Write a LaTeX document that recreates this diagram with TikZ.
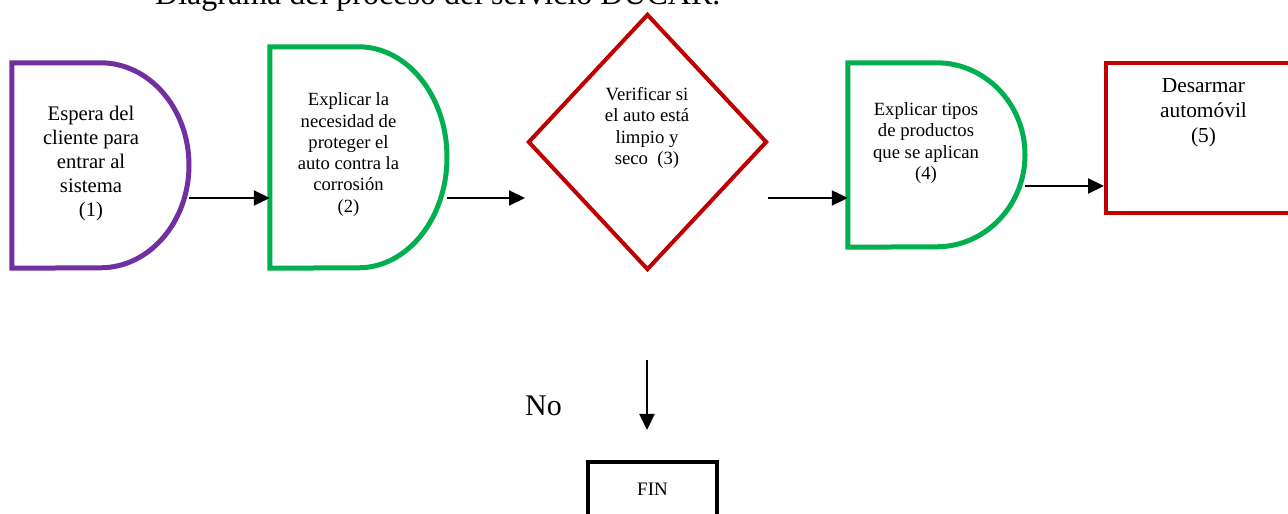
\documentclass[tikz,border=0pt]{standalone}
\usepackage{fontspec}
\setmainfont{Liberation Serif}
\usetikzlibrary{arrows.meta,shapes.geometric}
\definecolor{cpurple}{RGB}{112,48,160}
\definecolor{cgreen}{RGB}{0,176,80}
\definecolor{cred}{RGB}{192,0,0}
\tikzset{
  x=1pt,y=1pt,
  shapebox/.style={rectangle,inner sep=0pt,draw=none},
  lbl/.style={align=center,inner sep=0pt},
  arr/.style={line width=2.2pt,-{Triangle[length=16pt,width=15pt]}},
  delayline/.style={line width=5pt,line join=miter}
}
\begin{document}
\begin{tikzpicture}
\useasboundingbox (0,0) rectangle (1288,514);
\clip (0,0) rectangle (1288,514);
\fill[white] (0,0) rectangle (1288,514);

% title
\node[anchor=base west,inner sep=0pt,font=\fontsize{32}{36}\selectfont] (title) at (155,509) {Diagrama del proceso del servicio DUCAR.};

% shape 1 (delay, purple)
\node[shapebox,minimum width=177pt,minimum height=205pt] (d1) at (100.5,348.5) {};
\draw[delayline,cpurple] (d1.north) arc[start angle=90,end angle=-90,x radius=88.5,y radius=102.5] -- (d1.south west) -- (d1.north west) -- cycle;
\node[lbl,font=\fontsize{20.7}{24}\selectfont] (t1) at (91,350) {Espera del\\cliente para\\entrar al\\sistema\\(1)};

% shape 2 (delay, green)
\node[shapebox,minimum width=177pt,minimum height=221pt] (d2) at (358.5,356.5) {};
\draw[delayline,cgreen] (d2.north) arc[start angle=90,end angle=-90,x radius=88.5,y radius=110.5] -- (d2.south west) -- (d2.north west) -- cycle;
\node[lbl,font=\fontsize{18.6}{21.3}\selectfont] (t2) at (348.5,359.5) {Explicar la\\necesidad de\\proteger el\\auto contra la\\corrosión\\(2)};

% diamond (3)
\node[diamond,draw=cred,line width=4pt,inner sep=0pt,minimum width=239pt,minimum height=256pt] (dia) at (647.5,372) {};
\node[lbl,font=\fontsize{18.7}{21.3}\selectfont] (t3) at (647,386) {Verificar si\\el auto está\\limpio y\\seco\ \ (3)};

% shape 4 (delay, green)
\node[shapebox,minimum width=177pt,minimum height=184pt] (d4) at (936.5,359) {};
\draw[delayline,cgreen] (d4.north) arc[start angle=90,end angle=-90,x radius=88.5,y radius=92] -- (d4.south west) -- (d4.north west) -- cycle;
\node[lbl,font=\fontsize{18.7}{21.5}\selectfont] (t4) at (926,371) {Explicar tipos\\de productos\\que se aplican\\(4)};

% rectangle 5
\node[rectangle,draw=cred,line width=4pt,inner sep=0pt,minimum width=184pt,minimum height=150pt] (r5) at (1198,376) {};
\node[lbl,font=\fontsize{21.4}{25}\selectfont] (t5) at (1203.5,401) {Desarmar\\automóvil\\(5)};

% FIN
\node[rectangle,draw=black,line width=4pt,inner sep=0pt,minimum width=129pt,minimum height=68pt] (fin) at (652.5,18) {};
\node[lbl,font=\fontsize{19}{22}\selectfont] (tfin) at (652.5,25) {FIN};

% No
\node[lbl,font=\fontsize{30}{34}\selectfont] (no) at (543.5,108) {No};

% connectors
\coordinate (a1) at ([yshift=-32.5pt]d1.east);
\draw[arr] (a1) -- (a1 -| d2.west);
\coordinate (a2) at ([yshift=-40.5pt]d2.east);
\draw[arr] (a2) -- ([xshift=-1pt]a2 -| dia.west);
\coordinate (a3) at ([xshift=-1pt]a2 -| dia.east);
\draw[arr] (a3) -- (a3 -| d4.west);
\coordinate (a4) at ([yshift=-31pt]d4.east);
\draw[arr] (a4) -- (a4 -| r5.west);
\coordinate (s5) at (647,154);
\coordinate (e5) at (647,84);
\draw[arr] (s5) -- (e5);
\end{tikzpicture}
\end{document}
